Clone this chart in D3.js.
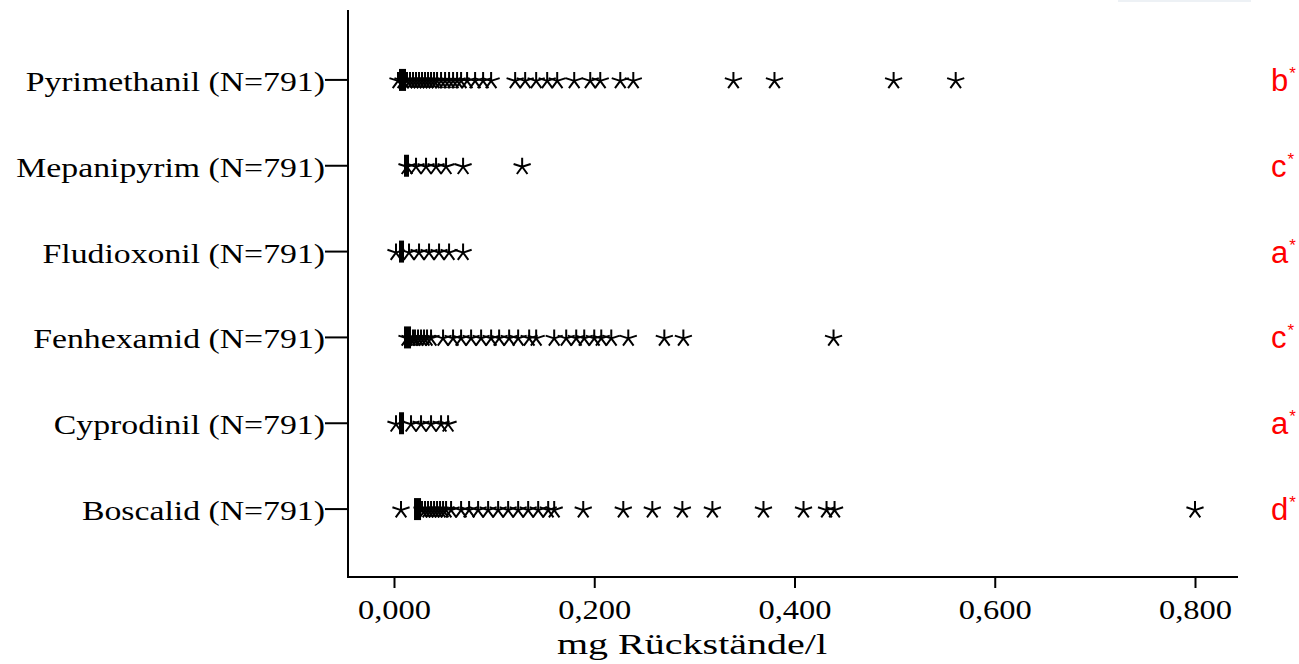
<!DOCTYPE html>
<html>
<head>
<meta charset="utf-8">
<script src="https://cdn.jsdelivr.net/npm/d3@7"></script>
<style>
  body { margin: 0; background: #fff; }
  svg { display: block; }
</style>
</head>
<body>
<script>
// categories, top to bottom
const categories = ["Pyrimethanil (N=791)", "Mepanipyrim (N=791)", "Fludioxonil (N=791)",
                    "Fenhexamid (N=791)", "Cyprodinil (N=791)", "Boscalid (N=791)"]
const groupLetters = ["b", "c", "a", "c", "a", "d"]

// box (Q1 / Q3), collapsed near zero
const q1 = [0.005, 0.010, 0.005, 0.010, 0.005, 0.020]
const q3 = [0.012, 0.015, 0.010, 0.017, 0.010, 0.027]

// extreme values (mg/l)
const pyrimethanil = [0.004, 0.009, 0.013, 0.016, 0.019, 0.022, 0.025, 0.028, 0.031, 0.034, 0.037,
  0.040, 0.043, 0.047, 0.051, 0.055, 0.059, 0.063, 0.067, 0.073, 0.081, 0.089, 0.097, 0.121, 0.131,
  0.142, 0.153, 0.163, 0.180, 0.196, 0.206, 0.226, 0.239, 0.339, 0.380, 0.499, 0.561]
const mepanipyrim = [0.013, 0.022, 0.032, 0.042, 0.052, 0.069, 0.128]
const fludioxonil = [0.002, 0.015, 0.025, 0.035, 0.045, 0.055, 0.069]
const fenhexamid = [0.013, 0.016, 0.019, 0.021, 0.024, 0.027, 0.030, 0.033, 0.037, 0.049, 0.059,
  0.067, 0.077, 0.087, 0.097, 0.105, 0.115, 0.124, 0.135, 0.142, 0.160, 0.172, 0.182, 0.190, 0.200,
  0.207, 0.217, 0.234, 0.270, 0.289, 0.439]
const cyprodinil = [0.002, 0.017, 0.027, 0.037, 0.047, 0.054]
const boscalid = [0.007, 0.028, 0.031, 0.034, 0.037, 0.040, 0.043, 0.046, 0.049, 0.052, 0.057,
  0.067, 0.075, 0.084, 0.094, 0.104, 0.114, 0.124, 0.134, 0.144, 0.154, 0.160, 0.189, 0.229,
  0.258, 0.288, 0.318, 0.369, 0.409, 0.432, 0.440, 0.800]

const xTicks = [0, 0.2, 0.4, 0.6, 0.8]
const xTitle = "mg Rückstände/l"

const outliers = [pyrimethanil, mepanipyrim, fludioxonil, fenhexamid, cyprodinil, boscalid]

const width = 1299, height = 664
const svg = d3.select("body").append("svg").attr("width", width).attr("height", height)

// faint strip in top right corner
svg.append("rect").attr("x", 1118).attr("y", 0).attr("width", 133).attr("height", 2).attr("fill", "#edf1f5")

const x = d3.scaleLinear().domain([0, 0.8]).range([394, 1195])
const y = d3.scaleBand().domain(categories).range([37, 552])
const yc = d => y(d) + y.bandwidth() / 2

const serif = "'Liberation Serif', 'Times New Roman', serif"

// axes lines
svg.append("line").attr("x1", 348).attr("x2", 348).attr("y1", 10).attr("y2", 578)
  .attr("stroke", "#000").attr("stroke-width", 2)
svg.append("line").attr("x1", 347).attr("x2", 1238).attr("y1", 577).attr("y2", 577)
  .attr("stroke", "#000").attr("stroke-width", 2)

// x axis
const xAxis = svg.append("g").attr("transform", "translate(0,578)")
  .call(d3.axisBottom(x).tickValues(xTicks).tickSize(10).tickPadding(11)
    .tickFormat(d => d3.format(".3f")(d).replace(".", ",")))
xAxis.select(".domain").remove()
xAxis.selectAll(".tick line").attr("stroke-width", 2)
xAxis.selectAll("text").style("font-family", serif).style("font-size", "28px").attr("fill", "#000")
  .each(function () { this.setAttribute("textLength", this.getComputedTextLength() * 1.16) })
  .attr("lengthAdjust", "spacingAndGlyphs")

svg.append("text").attr("x", 692).attr("y", 654).attr("text-anchor", "middle")
  .style("font-family", serif).style("font-size", "29px").text(xTitle)
  .each(function () { this.setAttribute("textLength", this.getComputedTextLength() * 1.38) })
  .attr("lengthAdjust", "spacingAndGlyphs")

// y ticks and labels
const yAxis = svg.append("g")
categories.forEach(c => {
  yAxis.append("line").attr("x1", 325).attr("x2", 348).attr("y1", yc(c)).attr("y2", yc(c))
    .attr("stroke", "#000").attr("stroke-width", 2)
  yAxis.append("text").attr("x", 325).attr("y", yc(c) + 11).attr("text-anchor", "end")
    .style("font-family", serif).style("font-size", "27px").text(c)
    .each(function () { this.setAttribute("textLength", this.getComputedTextLength() * 1.25) })
    .attr("lengthAdjust", "spacingAndGlyphs")
})

// five-armed asterisk
function asterisk(r) {
  let p = ""
  for (let k = 0; k < 5; k++) {
    const a = (-90 + 72 * k) * Math.PI / 180
    p += "M0,0L" + (r * Math.cos(a)).toFixed(2) + "," + (r * Math.sin(a)).toFixed(2)
  }
  return p
}
const star = asterisk(9)

const plot = svg.append("g")
categories.forEach((c, i) => {
  const cy = yc(c)
  plot.append("g").selectAll("path")
    .data(outliers[i])
    .join("path")
    .attr("d", star)
    .attr("transform", d => "translate(" + x(d) + "," + (cy + 1) + ")")
    .attr("fill", "none").attr("stroke", "#000").attr("stroke-width", 2)
  plot.append("rect")
    .attr("x", x(q1[i])).attr("y", cy - 11)
    .attr("width", x(q3[i]) - x(q1[i])).attr("height", 22)
    .attr("fill", "#000")
})

// group letters
categories.forEach((c, i) => {
  const t = svg.append("text").attr("x", 1271).attr("y", yc(c) + 11)
    .attr("fill", "#ff0000").style("font-family", "'Liberation Sans', Arial, sans-serif")
    .style("font-size", "31px")
  t.append("tspan").text(groupLetters[i])
  t.append("tspan").attr("dx", 1).attr("dy", -12).style("font-size", "17px").text("*")
})
</script>
</body>
</html>
